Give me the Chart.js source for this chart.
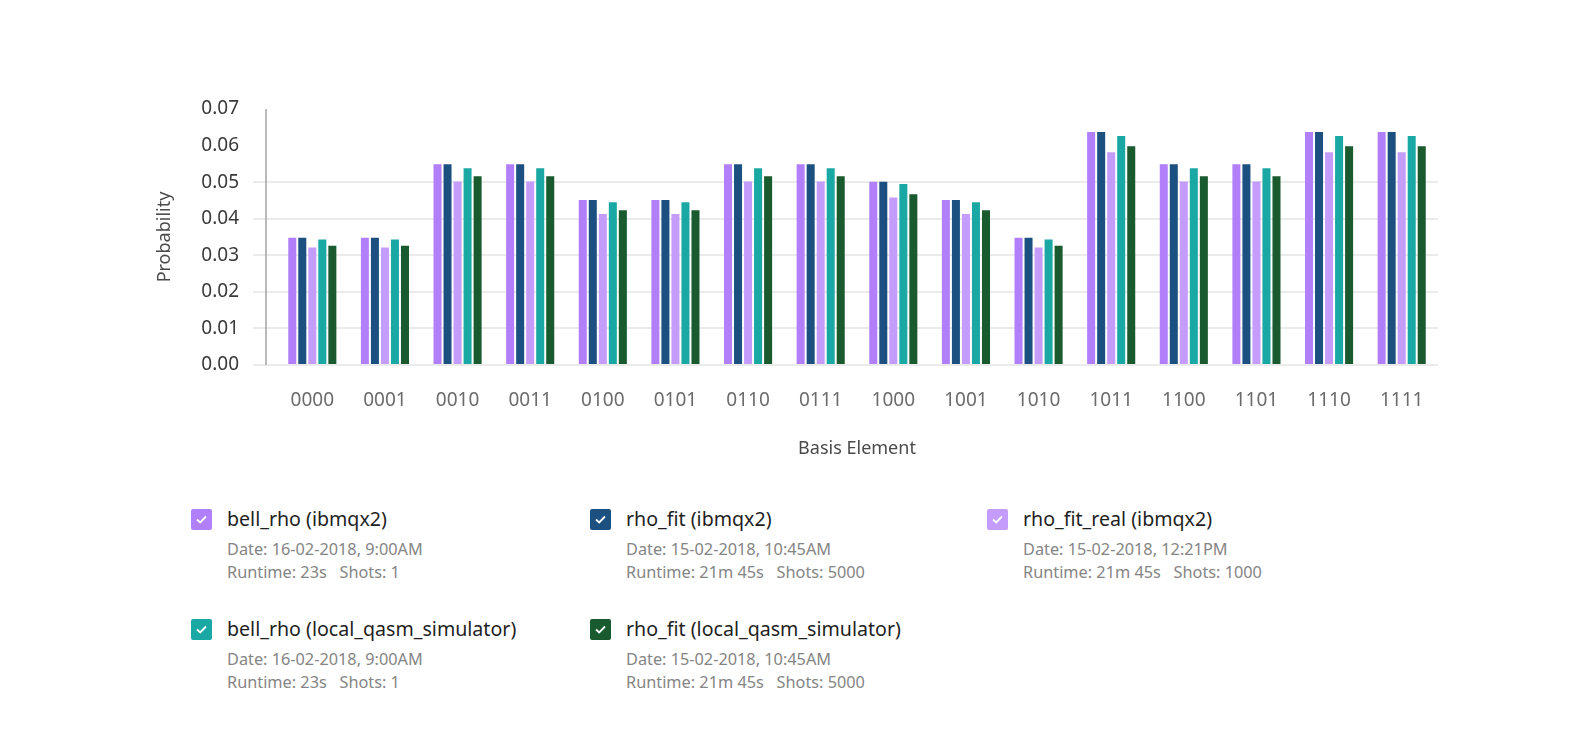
<!DOCTYPE html>
<html>
<head>
<meta charset="utf-8">
<script src="https://cdn.jsdelivr.net/npm/chart.js@4/dist/chart.umd.min.js"></script>
<style>
  body { margin: 0; background: #fff; font-family: "Noto Sans", sans-serif; }
  #wrap { position: absolute; left: 0; top: 0; width: 1588px; height: 480px; }
  #leyenda { position: absolute; left: 191px; top: 500px; width: 1240px; display: grid; grid-template-columns: 399px 397px 398px; row-gap: 26px; }
  .item { position: relative; padding-left: 36px; }
  .caja { position: absolute; left: 0; top: 9px; width: 21px; height: 21px; border-radius: 2px; }
  .caja svg { display: block; }
  .nombre { font-size: 19.6px; color: #1f1f1f; line-height: 38px; }
  .info { font-size: 16.3px; color: #858585; line-height: 23px; }
</style>
</head>
<body>
<div id="wrap"><canvas id="grafica" width="1588" height="480"></canvas></div>
<div id="leyenda"></div>
<script>
const categorias = ['0000', '0001', '0010', '0011', '0100', '0101', '0110', '0111', '1000', '1001', '1010', '1011', '1100', '1101', '1110', '1111'];

const bellRhoIbmqx2 = [0.0348, 0.0348, 0.0549, 0.0549, 0.0451, 0.0451, 0.0549, 0.0549, 0.0501, 0.0451, 0.0348, 0.0637, 0.0549, 0.0549, 0.0637, 0.0637];
const rhoFitIbmqx2 = [0.0348, 0.0348, 0.0549, 0.0549, 0.0451, 0.0451, 0.0549, 0.0549, 0.0501, 0.0451, 0.0348, 0.0637, 0.0549, 0.0549, 0.0637, 0.0637];
const rhoFitRealIbmqx2 = [0.0321, 0.0321, 0.0502, 0.0502, 0.0413, 0.0413, 0.0502, 0.0502, 0.0458, 0.0413, 0.0321, 0.0582, 0.0502, 0.0502, 0.0582, 0.0582];
const bellRhoLocal = [0.0343, 0.0343, 0.0538, 0.0538, 0.0445, 0.0445, 0.0538, 0.0538, 0.0495, 0.0445, 0.0343, 0.0626, 0.0538, 0.0538, 0.0626, 0.0626];
const rhoFitLocal = [0.0326, 0.0326, 0.0516, 0.0516, 0.0423, 0.0423, 0.0516, 0.0516, 0.0467, 0.0423, 0.0326, 0.0598, 0.0516, 0.0516, 0.0598, 0.0598];

const nombres = ['bell_rho (ibmqx2)', 'rho_fit (ibmqx2)', 'rho_fit_real (ibmqx2)', 'bell_rho (local_qasm_simulator)', 'rho_fit (local_qasm_simulator)'];
const fechas = ['16-02-2018, 9:00AM', '15-02-2018, 10:45AM', '15-02-2018, 12:21PM', '16-02-2018, 9:00AM', '15-02-2018, 10:45AM'];
const duraciones = ['23s', '21m 45s', '21m 45s', '23s', '21m 45s'];
const disparos = ['1', '5000', '1000', '1', '5000'];
const colores = ['#b27ffb', '#1c5080', '#c49cfc', '#1aa8a5', '#195a2e'];

const series = [bellRhoIbmqx2, rhoFitIbmqx2, rhoFitRealIbmqx2, bellRhoLocal, rhoFitLocal];

// Linea vertical del eje Y, separada un poco del area de barras
const ejeY = {
    id: 'ejeY',
    afterDraw(chart) {
        const y = chart.scales.y;
        const ctx = chart.ctx;
        ctx.save();
        ctx.strokeStyle = '#a3a3a3';
        ctx.lineWidth = 1.5;
        ctx.beginPath();
        ctx.moveTo(y.right - 10, y.top);
        ctx.lineTo(y.right - 10, y.bottom);
        ctx.stroke();
        ctx.restore();
    },
};

new Chart(document.getElementById('grafica'), {
    type: 'bar',
    data: {
        labels: categorias,
        datasets: series.map(function (valores, i) {
            return {
                label: nombres[i],
                data: valores,
                backgroundColor: colores[i],
                barPercentage: 0.8,
                categoryPercentage: 0.69,
            };
        }),
    },
    options: {
        responsive: false,
        animation: false,
        devicePixelRatio: 1,
        layout: {
            padding: { left: 150, top: 109, right: 150, bottom: 16 },
        },
        plugins: {
            legend: { display: false },
            tooltip: { enabled: false },
        },
        scales: {
            x: {
                grid: { display: false, drawTicks: false },
                border: { display: false },
                ticks: {
                    color: '#6b6b6b',
                    padding: 24,
                    font: { family: 'Noto Sans', size: 19 },
                },
                title: {
                    display: true,
                    text: 'Basis Element',
                    color: '#4a4a4a',
                    font: { family: 'Noto Sans', size: 18 },
                },
                afterFit: function (scale) {
                    scale.height = 99;
                },
            },
            y: {
                min: 0,
                max: 0.07,
                ticks: {
                    stepSize: 0.01,
                    color: '#3a3a3a',
                    padding: 14,
                    font: { family: 'Noto Sans', size: 19 },
                    callback: function (v) {
                        return v.toFixed(2);
                    },
                },
                grid: {
                    lineWidth: 2,
                    tickLength: 23,
                    color: function (context) {
                        return context.tick && context.tick.value > 0.055 ? 'rgba(0,0,0,0)' : '#ebebeb';
                    },
                },
                border: { display: false },
                title: {
                    display: true,
                    text: 'Probability',
                    color: '#4a4a4a',
                    font: { family: 'Noto Sans', size: 18 },
                },
                afterFit: function (scale) {
                    scale.width = 126;
                },
            },
        },
    },
    plugins: [ejeY],
});

// Leyenda en HTML con casillas marcadas
const leyenda = document.getElementById('leyenda');
nombres.forEach(function (nombre, i) {
    const item = document.createElement('div');
    item.className = 'item';
    item.innerHTML =
        '<span class="caja" style="background:' + colores[i] + '">' +
        '<svg width="21" height="21" viewBox="0 0 21 21"><polyline points="6,10.5 9.2,13.5 15,7.5" fill="none" stroke="#fff" stroke-width="1.8"/></svg></span>' +
        '<div class="nombre">' + nombre + '</div>' +
        '<div class="info">Date: ' + fechas[i] + '</div>' +
        '<div class="info">Runtime: ' + duraciones[i] + '&nbsp;&nbsp;&nbsp;Shots: ' + disparos[i] + '</div>';
    leyenda.appendChild(item);
});
</script>
</body>
</html>
